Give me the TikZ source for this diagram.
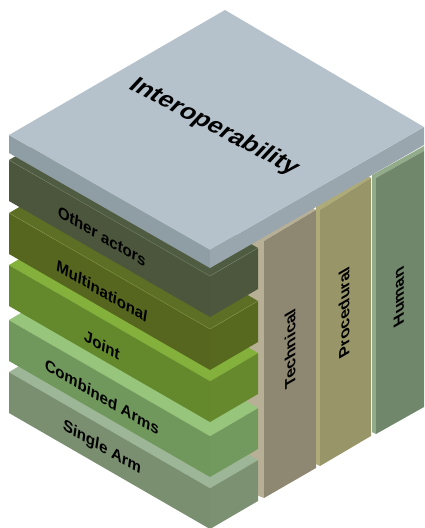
\documentclass[tikz,border=0pt]{standalone}
\usepackage{fontspec}
\setmainfont{Liberation Sans}
\usetikzlibrary{positioning}

\definecolor{slabtop}{HTML}{B5C2CB}
\definecolor{slableft}{HTML}{8F9EA5}
\definecolor{slabright}{HTML}{99A6AE}
\definecolor{techface}{HTML}{8E8872}
\definecolor{techedge}{HTML}{B8B096}
\definecolor{procface}{HTML}{989668}
\definecolor{procedge}{HTML}{AEAB78}
\definecolor{humface}{HTML}{70876B}
\definecolor{humedge}{HTML}{92AC8A}

\begin{document}
\begin{tikzpicture}[
            x=1pt, y=-1pt,
            every node/.style={align=center, font=\bfseries\fontsize{15.5}{18}\selectfont, inner sep=0pt},
            layerlabel/.style={cm={0.95,-0.55,0.15,1,(0,0)}},
            panellabel/.style={cm={0,1.1,-0.95,-0.55,(0,0)}},
            titlelabel/.style={cm={0.95,-0.5,0.68,0.73,(0,0)}, font=\bfseries\fontsize{24}{28}\selectfont}
  ]
  \useasboundingbox (0,0) rectangle (424,528);

  % side panels
  \fill[techedge] (244,240) -- (259,238) -- (259,496) -- (244,487) -- cycle;
  \fill[techedge] (259,238) -- (311,207) -- (316,210) -- (264,241) -- (264,498) -- (259,496) -- cycle;
  \fill[techface] (264,241) -- (316,210) -- (316,468) -- (264,498) -- cycle;
  \fill[procedge] (316,207) -- (367,175) -- (371,178) -- (320,210) -- (320,466) -- (316,464) -- cycle;
  \fill[procface] (320,210) -- (371,178) -- (371,436) -- (320,466) -- cycle;
  \fill[humedge] (372,175) -- (424,146) -- (424,151) -- (376,178) -- (376,434) -- (372,432) -- cycle;
  \fill[humface] (376,178) -- (424,151) -- (424,407) -- (376,434) -- cycle;

  % layers, from the bottom up
  \foreach \ly/\faceleft/\faceright/\facetop/\edgeline in {
      372/7A8E70/7C9072/9DB697/9DB697,
      320/71985C/739A5E/97C57B/97C57B,
      265/64892C/66892D/83B13B/83B13B,
      213/56661F/57681F/5C6F25/8A9A50,
      160/4B563C/4C573D/505C42/7C8670} {
    \definecolor{faceL}{HTML}{\faceleft}
    \definecolor{faceR}{HTML}{\faceright}
    \definecolor{faceT}{HTML}{\facetop}
    \definecolor{faceE}{HTML}{\edgeline}
    \fill[faceT] (9,\ly) -- (210,\ly+116) -- (258,\ly+88) -- (57,\ly-28) -- cycle;
    \fill[faceL] (9,\ly) -- (210,\ly+116) -- (210,\ly+157) -- (9,\ly+41) -- cycle;
    \fill[faceR] (210,\ly+116) -- (258,\ly+88) -- (258,\ly+129) -- (210,\ly+157) -- cycle;
    \draw[faceE, line width=0.3pt] (9,\ly) -- (210,\ly+116) -- (258,\ly+88);
  }

  % top slab
  \fill[slableft] (9,135) -- (210,250) -- (210,268) -- (9,153) -- cycle;
  \fill[slabright] (210,250) -- (424,127) -- (424,145) -- (210,268) -- cycle;
  \fill[slabtop] (225,10) -- (424,127) -- (210,250) -- (9,135) -- cycle;

  \node[titlelabel] (interop) at (214,127) {Interoperability};
  \node[layerlabel] (other) at (102,236) {Other actors};
  \node[layerlabel] (multi) at (102,291) {Multinational};
  \node[layerlabel] (joint) at (102,345) {Joint};
  \node[layerlabel] (combined) at (102,397) {Combined Arms};
  \node[layerlabel] (single) at (102,448) {Single Arm};
  \node[panellabel] (technical) at (290,349) {Technical};
  \node[panellabel] (procedural) at (344,313) {Procedural};
  \node[panellabel] (human) at (399,297) {Human};

\end{tikzpicture}
\end{document}
